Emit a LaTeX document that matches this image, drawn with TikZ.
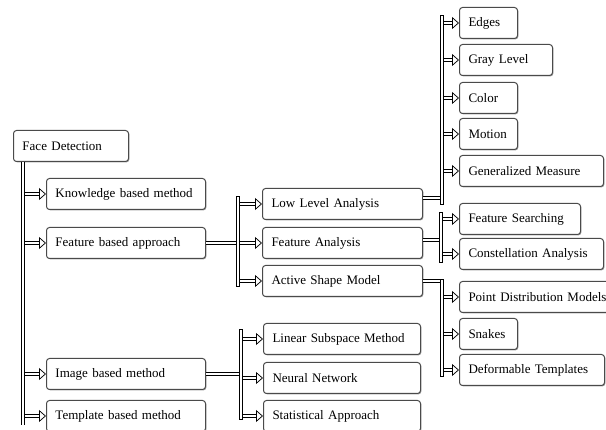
\documentclass[tikz,border=0pt]{standalone}
\usepackage{fontspec}
\setmainfont{Liberation Serif}
\usetikzlibrary{arrows.meta,shadows}
\definecolor{frame}{HTML}{4A4A4A}
\definecolor{shade}{HTML}{A0A0A0}

\tikzset{
  box/.style={draw=frame,line width=1pt,rounded corners=3pt,fill=white,
    anchor=north west,minimum height=31pt,inner xsep=9pt,inner ysep=0pt,
    align=left,font=\fontsize{13}{15}\selectfont,
    drop shadow={shadow xshift=0.9pt,shadow yshift=-0.9pt,fill=shade,opacity=1}},
  link/.style={draw=black,line width=0.75pt,double=white,double distance=2.8pt},
  branch/.style={link,-{Triangle[open,fill=white,length=7pt,width=12pt,line width=0.75pt]}},
  bar/.style={link,line cap=rect}
}

\begin{document}
\begin{tikzpicture}[x=1pt,y=-1pt]
\useasboundingbox (0,0) rectangle (606,430);
\clip (0,0) rectangle (606,430);
% first level
\node[box,text width=97pt] (fd) at (13,130) {Face Detection};
\node[box,text width=141pt] (kbm) at (46,178) {Knowledge based method};
\node[box,text width=141pt] (fba) at (46,227) {Feature based approach};
\node[box,text width=141pt] (ibm) at (46,358) {Image based method};
\node[box,text width=141pt] (tbm) at (46,400) {Template based method};
% second level
\node[box,text width=142pt] (lla) at (262,188) {Low Level Analysis};
\node[box,text width=142pt] (fa) at (262,227) {Feature Analysis};
\node[box,text width=142pt] (asm) at (262,265) {Active Shape Model};
\node[box,text width=139pt] (lsm) at (263,323) {Linear Subspace Method};
\node[box,text width=139pt] (nn) at (263,362) {Neural Network};
\node[box,text width=139pt] (sa) at (263,400) {Statistical Approach};
% third level
\node[box,text width=40pt] (edg) at (459,7) {Edges};
\node[box,text width=75pt] (gray) at (459,44) {Gray Level};
\node[box,text width=40pt] (col) at (459,82) {Color};
\node[box,text width=40pt] (mot) at (459,118) {Motion};
\node[box,text width=126pt] (gen) at (459,155) {Generalized Measure};
\node[box,text width=103pt] (fs) at (459,203) {Feature Searching};
\node[box,text width=126pt] (con) at (459,238) {Constellation Analysis};
\node[box,text width=140pt] (pdm) at (459,281) {Point Distribution Models};
\node[box,text width=40pt] (snk) at (459,318) {Snakes};
\node[box,text width=127pt] (dt) at (459,354) {Deformable Templates};

% trunk
\coordinate (t0) at ([xshift=10pt]fd.south west);
\coordinate (t1) at (23,425);
\foreach \n in {kbm,fba,ibm,tbm}
  \draw[branch] (t0 |- \n.west) -- (\n.west);
\draw[link] (t0) -- (t1);

% feature based approach
\coordinate (b1t) at (238,198);
\coordinate (b1b) at (238,285);
\draw[link] (fba.east) -- (fba.east -| b1t);
\foreach \n in {lla,fa,asm}
  \draw[branch] (b1t |- \n.west) -- (\n.west);
\draw[bar] (b1t) -- (b1b);

% image based method
\coordinate (b2t) at (241,331);
\coordinate (b2b) at (241,418);
\draw[link] (ibm.east) -- (ibm.east -| b2t);
\foreach \n in {lsm,nn,sa}
  \draw[branch] (b2t |- \n.west) -- (\n.west);
\draw[bar] (b2t) -- (b2b);

% low level analysis
\coordinate (b3t) at (442,17);
\coordinate (b3b) at (442,203);
\draw[link] ([yshift=6pt]lla.east) -- ([yshift=6pt]lla.east -| b3t);
\foreach \n in {edg,gray,col,mot,gen}
  \draw[branch] (b3t |- \n.west) -- (\n.west);
\draw[bar] (b3t) -- (b3b);

% feature analysis
\coordinate (b4t) at (441,214);
\coordinate (b4b) at (441,261);
\draw[link] ([yshift=3pt]fa.east) -- ([yshift=3pt]fa.east -| b4t);
\foreach \n in {fs,con}
  \draw[branch] (b4t |- \n.west) -- (\n.west);
\draw[bar] (b4t) -- (b4b);

% active shape model
\coordinate (b5t) at (442,281);
\coordinate (b5b) at (442,375);
\draw[link] (asm.east) -- (asm.east -| b5t);
\foreach \n in {pdm,snk,dt}
  \draw[branch] (b5t |- \n.west) -- (\n.west);
\draw[bar] (b5t) -- (b5b);
\end{tikzpicture}
\end{document}
